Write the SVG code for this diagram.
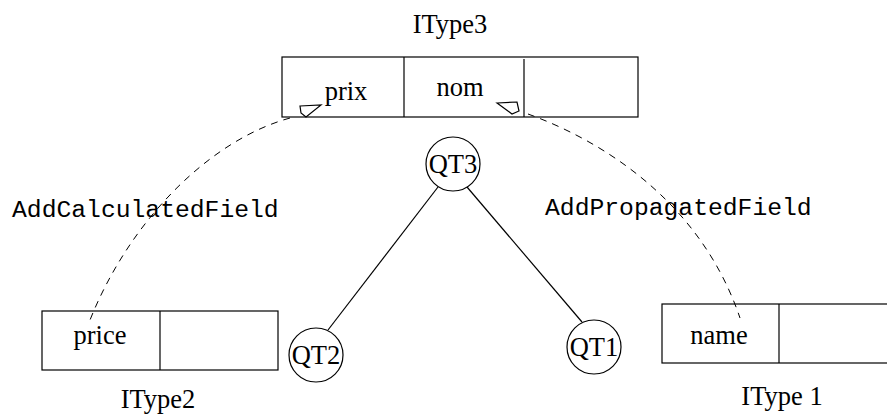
<svg xmlns="http://www.w3.org/2000/svg" width="887" height="414" viewBox="0 0 887 414">
<style>
.box{fill:#fff;stroke:#000;stroke-width:1.2}
.ln{fill:none;stroke:#000;stroke-width:1.2}
.dash{fill:none;stroke:#000;stroke-width:1;stroke-dasharray:7,6}
.t{font-family:"Liberation Serif",serif;font-size:26.5px;fill:#000}
.m{font-family:"Liberation Mono",monospace;font-size:24.7px;fill:#000}
.c{fill:#fff;stroke:#000;stroke-width:1.2}
</style>
<g id="itype3">
<rect class="box" x="282" y="57" width="356" height="60"/>
<line class="ln" x1="404" y1="57" x2="404" y2="117"/>
<line class="ln" x1="524" y1="59" x2="524" y2="117"/>
<text class="t" x="450" y="33" text-anchor="middle">IType3</text>
<text class="t" x="346" y="100" text-anchor="middle">prix</text>
<text class="t" x="460" y="96" text-anchor="middle">nom</text>
</g>
<g id="itype2">
<rect class="box" x="42" y="311" width="236" height="59"/>
<line class="ln" x1="160" y1="311" x2="160" y2="370"/>
<text class="t" x="100" y="344" text-anchor="middle">price</text>
<text class="t" x="158" y="408" text-anchor="middle">IType2</text>
</g>
<g id="itype1">
<rect class="box" x="662" y="304" width="240" height="59"/>
<line class="ln" x1="779" y1="304" x2="779" y2="363"/>
<text class="t" x="719" y="344" text-anchor="middle">name</text>
<text class="t" x="782" y="405" text-anchor="middle">IType 1</text>
</g>
<g id="qt3">
<circle class="c" cx="453" cy="164" r="27"/>
<text class="t" x="453" y="173" text-anchor="middle">QT3</text>
</g>
<g id="qt2">
<circle class="c" cx="316" cy="355" r="27"/>
<text class="t" x="316" y="364" text-anchor="middle">QT2</text>
</g>
<g id="qt1">
<circle class="c" cx="594" cy="347" r="27"/>
<text class="t" x="594" y="356" text-anchor="middle">QT1</text>
</g>
<g id="connectors">
<line class="ln" x1="438" y1="187" x2="328" y2="330"/>
<line class="ln" x1="467" y1="187" x2="582" y2="322"/>
<path class="dash" d="M290,118 C210,140 130,220 90,320"/>
<polygon class="ln" points="300,106 321,105 306,117 301,113"/>
<path class="dash" d="M528,114 C600,140 700,200 740,318"/>
<polygon class="ln" points="497,103 517,102 519,111 512,114"/>
<text class="m" x="12" y="217">AddCalculatedField</text>
<text class="m" x="545" y="215">AddPropagatedField</text>
</g>
</svg>
